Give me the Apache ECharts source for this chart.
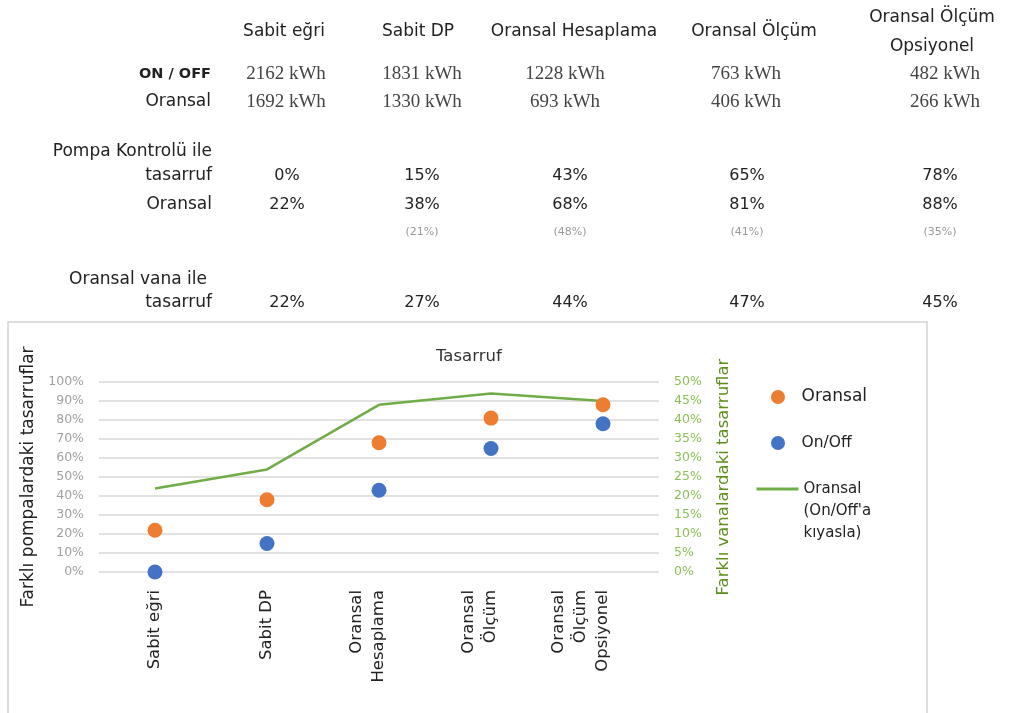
<!DOCTYPE html>
<html>
<head>
<meta charset="utf-8">
<script src="https://cdn.jsdelivr.net/npm/echarts@6/dist/echarts.min.js"></script>
<style>
html,body{margin:0;padding:0;background:#fff;}
#c{width:1014px;height:713px;}
</style>
</head>
<body>
<div id="c"></div>
<script>
const categories = ['Sabit eğri', 'Sabit DP', 'Oransal Hesaplama', 'Oransal Ölçüm', 'Oransal Ölçüm\nOpsiyonel'];
const axisLabels = ['Sabit eğri', 'Sabit DP', 'Oransal\nHesaplama', 'Oransal\nÖlçüm', 'Oransal\nÖlçüm\nOpsiyonel'];
const onOffKwh = [2162, 1831, 1228, 763, 482];
const oransalKwh = [1692, 1330, 693, 406, 266];
const pumpOnOff = [0, 15, 43, 65, 78];
const pumpOransal = [22, 38, 68, 81, 88];
const relativeNotes = ['', '(21%)', '(48%)', '(41%)', '(35%)'];
const valveSaving = [22, 27, 44, 47, 45];
const leftTicks = [0, 100, 10];
const rightTicks = [0, 50, 5];
const seriesNames = ['Oransal', 'On/Off', "Oransal (On/Off'a kıyasla)"];

const headX = [284, 418, 574, 754, 932];
const kwhX = [286, 422, 565, 746, 945];
const pctX = [287, 422, 570, 747, 940];
const SANS = "'DejaVu Sans', Verdana, sans-serif";
const SERIF = "'Liberation Serif', 'Times New Roman', serif";

const g = [];
function txt(x, y, s, o) {
  g.push({type: 'text', x: x, y: y, silent: true, style: Object.assign({text: s, font: '17px ' + SANS, fill: '#222', align: 'center', verticalAlign: 'middle'}, o || {})});
}
categories.forEach((c, i) => {
  txt(headX[i], 32, c, {lineHeight: 29});
  txt(kwhX[i], 74, onOffKwh[i] + ' kWh', {font: '19px ' + SERIF, fill: '#444'});
  txt(kwhX[i], 102, oransalKwh[i] + ' kWh', {font: '19px ' + SERIF, fill: '#444'});
  txt(pctX[i], 176, pumpOnOff[i] + '%', {font: '16px ' + SANS});
  txt(pctX[i], 205, pumpOransal[i] + '%', {font: '16px ' + SANS});
  if (relativeNotes[i]) txt(pctX[i], 232, relativeNotes[i], {font: '11px ' + SANS, fill: '#999'});
  txt(pctX[i], 303, valveSaving[i] + '%', {font: '16px ' + SANS});
});
txt(211, 74, 'ON / OFF', {align: 'right', font: 'bold 14.5px ' + SANS});
txt(211, 102, 'Oransal', {align: 'right'});
txt(212, 152, 'Pompa Kontrolü ile', {align: 'right'});
txt(212, 176, 'tasarruf', {align: 'right'});
txt(212, 205, 'Oransal', {align: 'right'});
txt(207, 280, 'Oransal vana ile', {align: 'right'});
txt(212, 303, 'tasarruf', {align: 'right'});
g.push({type: 'rect', silent: true, z: -1, shape: {x: 8, y: 322, width: 919, height: 420}, style: {fill: '#fff', stroke: '#d4d4d4', lineWidth: 1.5}});

const chart = echarts.init(document.getElementById('c'));
chart.setOption({
  animation: false,
  textStyle: {fontFamily: SANS},
  graphic: g,
  title: {text: 'Tasarruf', left: 431, top: 343, textStyle: {fontSize: 16.5, fontWeight: 'normal', color: '#333'}},
  grid: {left: 99, right: 1014 - 659, top: 382, height: 190, containLabel: false},
  legend: [
    {
      orient: 'vertical', left: 766, top: 382, itemWidth: 37, itemHeight: 14, itemGap: 26,
      textStyle: {fontSize: 17, color: '#222', lineHeight: 20},
      data: [
        {name: seriesNames[0], icon: 'circle'},
        {name: seriesNames[1], icon: 'circle', textStyle: {fontSize: 15.5}}
      ]
    },
    {
      orient: 'vertical', left: 750, top: 429, itemWidth: 42, itemHeight: 14,
      textStyle: {fontSize: 15, color: '#222', lineHeight: 22},
      data: [{name: seriesNames[2], itemStyle: {opacity: 0}, lineStyle: {width: 3, color: '#70ad47'}}],
      formatter: () => "\n\nOransal\n(On/Off'a\nkıyasla)"
    }
  ],
  xAxis: {
    type: 'category',
    data: axisLabels,
    axisLine: {show: false}, axisTick: {show: false},
    axisLabel: {
      rotate: 90, interval: 0, fontSize: 16.5, color: '#222', margin: 18, lineHeight: 22,
      formatter: v => v + '\n'.repeat(v.split('\n').length - 1)
    }
  },
  yAxis: [
    {
      type: 'value', min: leftTicks[0], max: leftTicks[1], interval: leftTicks[2],
      name: 'Farklı pompalardaki tasarruflar', nameLocation: 'middle', nameRotate: 90, nameGap: 62,
      nameTextStyle: {fontSize: 17, color: '#222'},
      axisLabel: {formatter: '{value}%', fontSize: 12.5, color: '#a0a0a0', margin: 15},
      splitLine: {lineStyle: {color: '#d9d9d9', width: 1.5}},
      axisLine: {show: false}, axisTick: {show: false}
    },
    {
      type: 'value', min: rightTicks[0], max: rightTicks[1], interval: rightTicks[2], position: 'right',
      name: 'Farklı vanalardaki tasarruflar', nameLocation: 'middle', nameRotate: 90, nameGap: 56,
      nameTextStyle: {fontSize: 16.5, color: '#5e8f1c'},
      axisLabel: {formatter: '{value}%', fontSize: 12.5, color: '#8cbf55', margin: 15},
      splitLine: {show: false}, axisLine: {show: false}, axisTick: {show: false}
    }
  ],
  series: [
    {name: seriesNames[0], type: 'scatter', data: pumpOransal, symbolSize: 15, itemStyle: {color: '#ed7d31', opacity: 1}, z: 3},
    {name: seriesNames[1], type: 'scatter', data: pumpOnOff, symbolSize: 15, itemStyle: {color: '#4472c4', opacity: 1}, z: 3},
    {name: seriesNames[2], type: 'line', yAxisIndex: 1, data: valveSaving, symbol: 'none', lineStyle: {color: '#70ad47', width: 2.5}, itemStyle: {color: '#70ad47'}, z: 2}
  ]
});
</script>
</body>
</html>
